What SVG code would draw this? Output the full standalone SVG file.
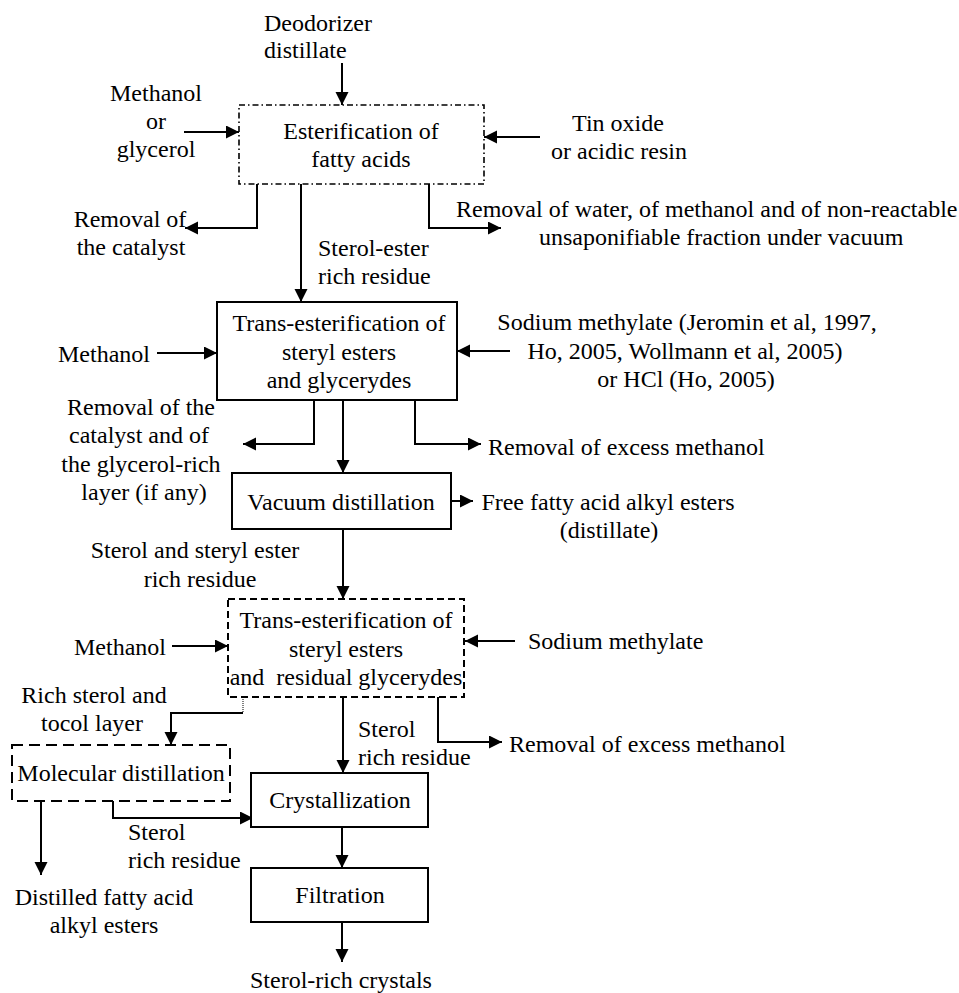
<svg xmlns="http://www.w3.org/2000/svg" width="959" height="993" viewBox="0 0 959 993">
  <defs>
    <marker id="arrow" markerUnits="userSpaceOnUse" markerWidth="14" markerHeight="14" refX="13" refY="6.5" orient="auto">
      <path d="M0,0 L13,6.5 L0,13 Z" fill="#000"/>
    </marker>
    <style>
      text { font-family: "Liberation Serif", "Times New Roman", serif; font-size: 24px; fill: #000; }
      .c { text-anchor: middle; }
      .s { text-anchor: start; }
      .box { fill: #fff; stroke: #000; stroke-width: 2; }
      .dashdot { stroke-dasharray: 6 3 1.5 3; stroke-width: 1.6; }
      .dash { stroke-dasharray: 7 4; }
      .longdash { stroke-dasharray: 11 6; }
      .link { fill: none; stroke: #000; stroke-width: 2; }
      .arr { marker-end: url(#arrow); }
      .dot { fill: none; stroke: #000; stroke-width: 1; stroke-dasharray: 1 1; }
    </style>
  </defs>

  <!-- connectors -->
  <g id="connectors">
    <path class="link arr" d="M342,63 V105"/>
    <path class="link arr" d="M184,132 H239"/>
    <path class="link arr" d="M540,137 H484"/>
    <path class="link arr" d="M257,184 V228 H185"/>
    <path class="link arr" d="M301,184 V302"/>
    <path class="link arr" d="M429,184 V228 H501"/>
    <path class="link arr" d="M157,353 H217"/>
    <path class="link arr" d="M510,351 H457"/>
    <path class="link arr" d="M314,400 V444 H243"/>
    <path class="link arr" d="M343,400 V473"/>
    <path class="link arr" d="M415,400 V444 H481"/>
    <path class="link arr" d="M451,501 H473"/>
    <path class="link arr" d="M343,529 V599"/>
    <path class="link arr" d="M172,646 H228"/>
    <path class="link arr" d="M515,641 H465"/>
    <path class="dot" d="M243,697 V713"/>
    <path class="link arr" d="M243,713 H171 V745"/>
    <path class="link arr" d="M343,697 V773"/>
    <path class="link arr" d="M438,697 V742 H502"/>
    <path class="link arr" d="M41,801 V875"/>
    <path class="link arr" d="M113,801 V818 H253"/>
    <path class="link arr" d="M342,827 V868"/>
    <path class="link arr" d="M342,922 V962"/>
  </g>

  <!-- feed: deodorizer distillate -->
  <g id="feed">
    <text class="s" x="264" y="31">Deodorizer</text>
    <text class="s" x="264" y="58">distillate</text>
  </g>

  <g id="methanol-glycerol">
    <text class="c" x="156" y="101">Methanol</text>
    <text class="c" x="156" y="129">or</text>
    <text class="c" x="156" y="157">glycerol</text>
  </g>

  <g id="esterification">
    <rect class="box dashdot" x="239" y="105" width="245" height="79"/>
    <text class="c" x="361" y="139">Esterification of</text>
    <text class="c" x="361" y="167">fatty acids</text>
  </g>

  <g id="tin-oxide">
    <text class="c" x="618" y="131">Tin oxide</text>
    <text class="c" x="619" y="159">or acidic resin</text>
  </g>

  <g id="removal-catalyst">
    <text class="c" x="130" y="227">Removal of</text>
    <text class="c" x="131" y="255">the catalyst</text>
  </g>

  <g id="sterol-ester-label">
    <text class="s" x="318" y="256">Sterol-ester</text>
    <text class="s" x="318" y="284">rich residue</text>
  </g>

  <g id="removal-water">
    <text class="s" x="456" y="217">Removal of water, of methanol and of non-reactable</text>
    <text class="s" x="539" y="245">unsaponifiable fraction under vacuum</text>
  </g>

  <g id="transesterification-1">
    <rect class="box" x="217" y="302" width="240" height="98"/>
    <text class="c" x="339" y="331">Trans-esterification of</text>
    <text class="c" x="339" y="360">steryl esters</text>
    <text class="c" x="339" y="388">and glycerydes</text>
  </g>

  <g id="methanol-1">
    <text class="s" x="58" y="362">Methanol</text>
  </g>

  <g id="sodium-methylate-1">
    <text class="c" x="687" y="330">Sodium methylate (Jeromin et al, 1997,</text>
    <text class="c" x="685" y="359">Ho, 2005, Wollmann et al, 2005)</text>
    <text class="c" x="686" y="387">or HCl (Ho, 2005)</text>
  </g>

  <g id="removal-glycerol-layer">
    <text class="c" x="141" y="415">Removal of the</text>
    <text class="c" x="139" y="443">catalyst and of</text>
    <text class="c" x="141" y="472">the glycerol-rich</text>
    <text class="c" x="144" y="500">layer (if any)</text>
  </g>

  <g id="removal-methanol-1">
    <text class="s" x="488" y="455">Removal of excess methanol</text>
  </g>

  <g id="vacuum-distillation">
    <rect class="box" x="232" y="473" width="219" height="56"/>
    <text class="c" x="341" y="510">Vacuum distillation</text>
  </g>

  <g id="free-fatty-esters">
    <text class="c" x="608" y="510">Free fatty acid alkyl esters</text>
    <text class="c" x="609" y="538">(distillate)</text>
  </g>

  <g id="sterol-steryl-label">
    <text class="c" x="195" y="558">Sterol and steryl ester</text>
    <text class="c" x="200" y="587">rich residue</text>
  </g>

  <g id="transesterification-2">
    <rect class="box dash" x="228" y="599" width="236" height="98"/>
    <text class="c" x="346" y="628">Trans-esterification of</text>
    <text class="c" x="346" y="657">steryl esters</text>
    <text class="c" x="346" y="685" style="white-space:pre">and  residual glycerydes</text>
  </g>

  <g id="methanol-2">
    <text class="s" x="74" y="655">Methanol</text>
  </g>

  <g id="sodium-methylate-2">
    <text class="s" x="528" y="649">Sodium methylate</text>
  </g>

  <g id="sterol-tocol-layer">
    <text class="c" x="94" y="703">Rich sterol and</text>
    <text class="c" x="92" y="731">tocol layer</text>
  </g>

  <g id="sterol-residue-1">
    <text class="s" x="358" y="737">Sterol</text>
    <text class="s" x="358" y="765">rich residue</text>
  </g>

  <g id="removal-methanol-2">
    <text class="s" x="509" y="752">Removal of excess methanol</text>
  </g>

  <g id="molecular-distillation">
    <rect class="box longdash" x="12" y="745" width="218" height="56"/>
    <text class="c" x="121" y="781">Molecular distillation</text>
  </g>

  <g id="sterol-residue-2">
    <text class="s" x="128" y="840">Sterol</text>
    <text class="s" x="128" y="868">rich residue</text>
  </g>

  <g id="distilled-esters">
    <text class="c" x="104" y="905">Distilled fatty acid</text>
    <text class="c" x="104" y="933">alkyl esters</text>
  </g>

  <g id="crystallization">
    <rect class="box" x="251" y="773" width="177" height="54"/>
    <text class="c" x="340" y="808">Crystallization</text>
  </g>

  <g id="filtration">
    <rect class="box" x="251" y="868" width="177" height="54"/>
    <text class="c" x="340" y="903">Filtration</text>
  </g>

  <g id="sterol-crystals">
    <text class="c" x="341" y="988">Sterol-rich crystals</text>
  </g>
</svg>
